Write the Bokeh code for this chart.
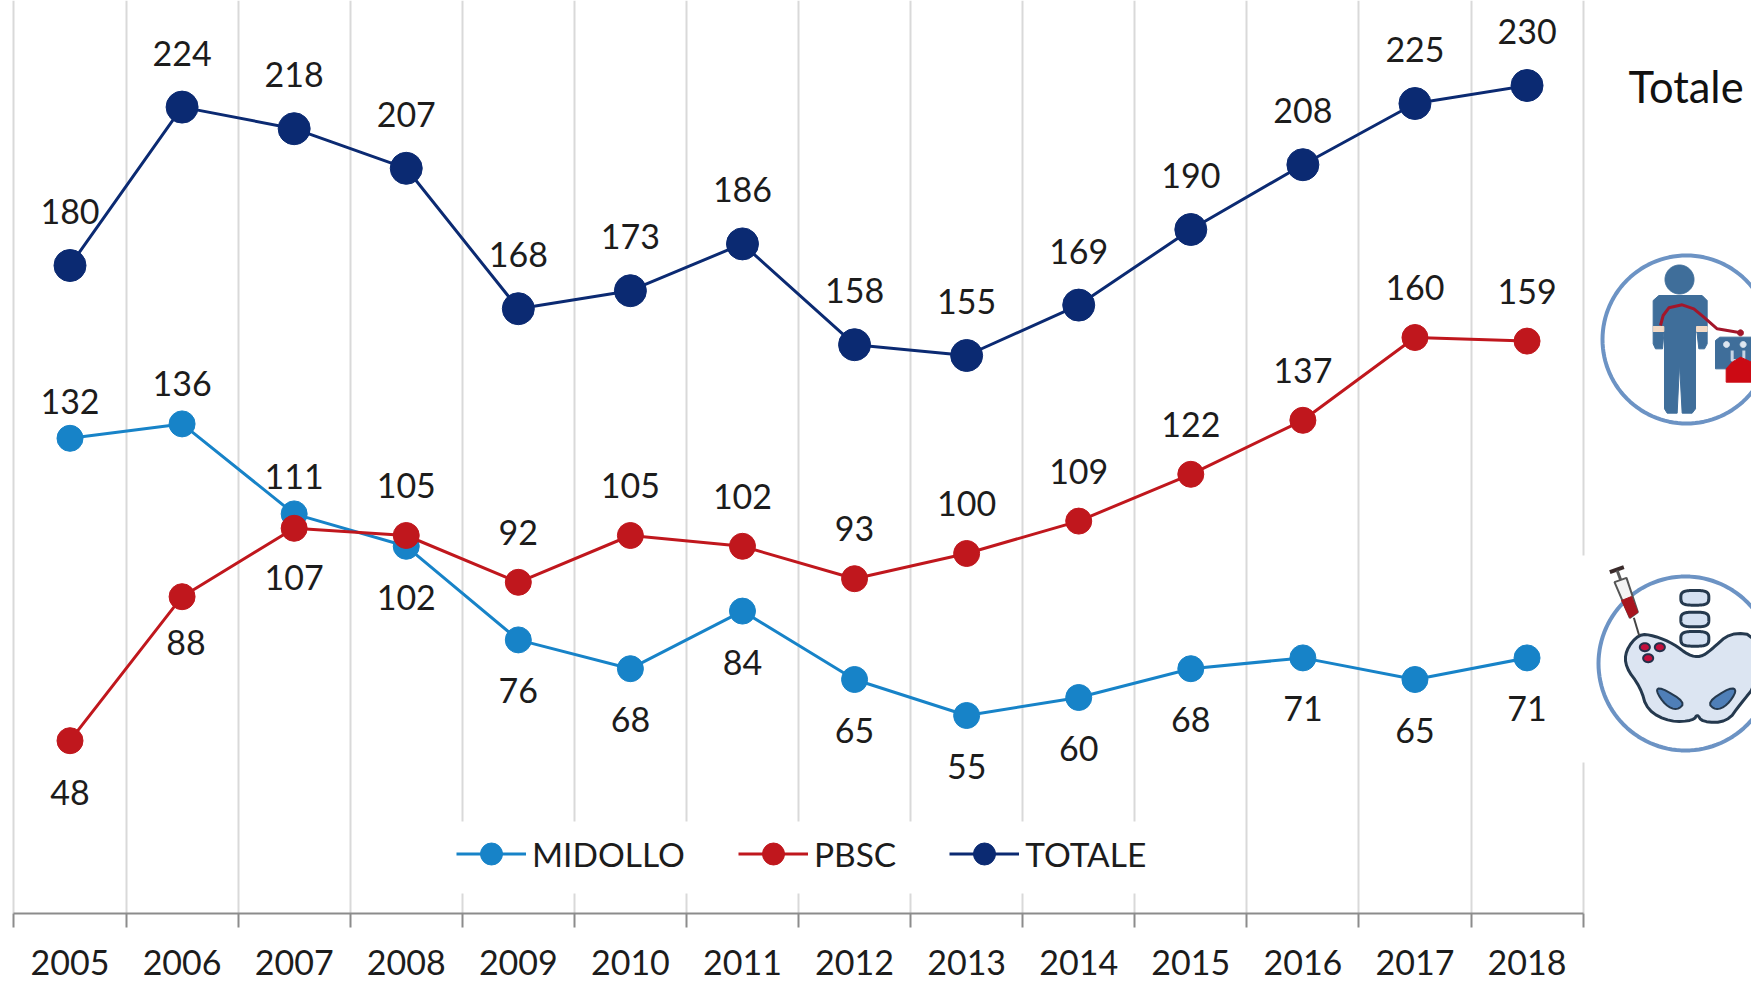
from bokeh.embed import file_html
from bokeh.resources import INLINE
from bokeh.plotting import figure
from bokeh.models import FixedTicker, Legend, LegendItem, Range1d, ColumnDataSource
from bokeh.core.properties import value
import numpy as np

YEARS = list(range(2005, 2019))
MIDOLLO = [132, 136, 111, 102, 76, 68, 84, 65, 55, 60, 68, 71, 65, 71]
PBSC = [48, 88, 107, 105, 92, 105, 102, 93, 100, 109, 122, 137, 160, 159]
TOTALE = [180, 224, 218, 207, 168, 173, 186, 158, 155, 169, 190, 208, 225, 230]
MID_ABOVE = [True, True, True] + [False] * 11
PBSC_ABOVE = [False, False, False] + [True] * 11
TOT_ABOVE = [True] * 14

C_MID, C_PBSC, C_TOT = "#1783C8", "#C0171D", "#0B2A72"
FONT = "Lato"
TXT = "#1c1c1c"

# layout in page pixels (Bokeh's page template has no body margin)
PX_2005, PX_YEAR = 69.5, 112.08
PX_Y0, PX_UNIT = 913.0, 3.6
F_L, F_R, F_T, F_B = 0, 1751, 0, 913

def X(px): return 2005 + (np.asarray(px, float) - PX_2005) / PX_YEAR
def Y(py): return (PX_Y0 - np.asarray(py, float)) / PX_UNIT

p = figure(width=1751, height=982, output_backend="svg", toolbar_location=None,
           x_range=Range1d(float(X(F_L)), float(X(F_R))), y_range=Range1d(0, float(Y(F_T))),
           min_border_left=0, min_border_right=0, min_border_top=0, min_border_bottom=982 - F_B)
p.outline_line_color = None
p.background_fill_color = "white"
p.yaxis.visible = False
p.ygrid.visible = False

HALVES = [y - 0.5 for y in YEARS] + [YEARS[-1] + 0.5]
ax = p.xaxis[0]
ax.ticker = FixedTicker(ticks=YEARS, minor_ticks=HALVES)
ax.bounds = (HALVES[0], HALVES[-1])
ax.axis_line_color = "#8C8C8C"
ax.axis_line_width = 2
ax.major_tick_line_color = None
ax.major_tick_out = 0
ax.major_tick_in = 0
ax.minor_tick_line_color = "#8C8C8C"
ax.minor_tick_line_width = 2
ax.minor_tick_out = 14
ax.minor_tick_in = 0
ax.major_label_text_font = FONT
ax.major_label_text_font_size = "34px"
ax.major_label_text_color = TXT
ax.major_label_standoff = 22

g = p.xgrid[0]
g.ticker = FixedTicker(ticks=HALVES)
g.bounds = (0, 250)
g.grid_line_color = "#D9D9D9"
g.grid_line_width = 2

# white plate the legend sits on: it interrupts the grid lines
p.quad(left=X([458]), right=X([1150]), bottom=Y([893]), top=Y([821]), fill_color="white", line_color=None)

# small label nudges (series, index) -> (dx, dy) in pixels
NUDGE = {("PBSC", 0): (0, 3), ("PBSC", 1): (4, -3), ("MIDOLLO", 1): (0, -3)}

legend_items = []
for name, vals, col, msize, above, up, down in [
    ("MIDOLLO", MIDOLLO, C_MID, 26, MID_ABOVE, -37, 51),
    ("PBSC", PBSC, C_PBSC, 26, PBSC_ABOVE, -50, 49),
    ("TOTALE", TOTALE, C_TOT, 32, TOT_ABOVE, -54, 53),
]:
    off = [(up if a else down) + NUDGE.get((name, i), (0, 0))[1] for i, a in enumerate(above)]
    xoff = [NUDGE.get((name, i), (0, 0))[0] for i in range(len(vals))]
    src = ColumnDataSource(dict(x=YEARS, y=vals, t=[str(v) for v in vals], off=off, xoff=xoff))
    r1 = p.line("x", "y", source=src, line_color=col, line_width=3)
    r2 = p.scatter("x", "y", source=src, size=msize, fill_color=col, line_color=col)
    p.text("x", "y", text="t", source=src, x_offset="xoff", y_offset="off", text_font=value(FONT),
           text_font_size="34px", text_color=TXT, text_align="center", text_baseline="middle")
    legend_items.append(LegendItem(label=name, renderers=[r1, r2]))

leg = Legend(items=legend_items, orientation="horizontal", location=(456, 32), margin=0,
             padding=10, spacing=53, glyph_width=70, glyph_height=55, label_standoff=6,
             label_text_font=FONT, label_text_font_size="33.5px", label_text_color=TXT,
             border_line_color=None, background_fill_color="white", background_fill_alpha=1)
p.add_layout(leg, "center")

# side panel
p.text(X([1628]), Y([85]), text=["Totale"], text_font=value(FONT), text_font_size="43.5px",
       text_color="#111111", text_align="left", text_baseline="middle")

RING = "#6C93C4"; BLUE = "#3F6E9A"; RED = "#CC0A14"; DARK = "#25394E"; PALE = "#DCE5F2"

def zx1(v): return X(1560 + np.asarray(v, float) / 3)
def zy1(v): return Y(np.asarray(v, float) / 3)
def zy2(v): return Y(540 + np.asarray(v, float) / 3)

def patch(xs, ys, fill, line=None, lw=1):
    p.patch(xs, ys, fill_color=fill, line_color=line if line else fill, line_width=lw)

def rounded(xs, ys, n=3):
    """Corner-cut a hand-traced outline so the icon reads as curved."""
    xs, ys = np.asarray(xs, float), np.asarray(ys, float)
    for _ in range(n):
        nx, ny = np.roll(xs, -1), np.roll(ys, -1)
        xs, ys = (np.column_stack([.75 * xs + .25 * nx, .25 * xs + .75 * nx]).ravel(),
                  np.column_stack([.75 * ys + .25 * ny, .25 * ys + .75 * ny]).ravel())
    return xs, ys

# donor icon
t = np.linspace(0, 2 * np.pi, 121)
patch(X(1686 + 84 * np.cos(t)), Y(339 + 84 * np.sin(t)), "white", RING, 4)
patch(X(1679 + 14.5 * np.cos(t)), Y(279 + 14.5 * np.sin(t)), BLUE)
patch(zx1([295, 425, 440, 440, 432, 415, 410, 405, 405, 395, 365, 357, 350, 320, 312, 312, 306, 285, 278, 278]),
      zy1([885, 885, 900, 1030, 1045, 1045, 1000, 980, 1225, 1238, 1238, 1090, 1238, 1238, 1225, 980, 1045, 1045, 1030, 900]), BLUE)
patch(zx1([278, 310, 310, 278]), zy1([978, 978, 993, 993]), "#F2D9C4")
patch(zx1([408, 440, 440, 408]), zy1([978, 978, 993, 993]), "#F2D9C4")
patch(zx1([478, 573, 573, 465, 465]), zy1([1010, 1010, 1105, 1105, 1020]), BLUE)
for cx in [498, 548]:
    patch(zx1(cx + 9 * np.cos(t)), zy1(1032 + 9 * np.sin(t)), "#DDE6F0")
p.line(zx1([515, 515, 530]), zy1([1050, 1080, 1080]), line_color="#C6D4E4", line_width=3)
p.line(zx1([550, 550, 535]), zy1([1050, 1080, 1080]), line_color="#C6D4E4", line_width=3)
patch(zx1([515, 540, 573, 573, 497, 497]), zy1([1085, 1070, 1085, 1145, 1145, 1105]), RED)
p.line(zx1([300, 308, 325, 365, 400, 430, 470, 540]), zy1([975, 945, 922, 913, 925, 950, 985, 997]),
       line_color="#A3162A", line_width=3)
patch(zx1(540 + 9 * np.cos(t)), zy1(997 + 9 * np.sin(t)), "#A3162A")

# marrow icon
p.quad(left=X([1575]), right=X([1751]), bottom=Y([762]), top=Y([555]), fill_color="white", line_color=None)
patch(X(1685 + 87 * np.cos(t)), Y(663 + 87 * np.sin(t)), "white", RING, 4)
px_, py_ = rounded([235, 195, 195, 240, 260, 330, 400, 410, 425, 500, 540, 590, 590, 510, 450, 420, 385, 340, 280],
                   [280, 330, 380, 440, 510, 545, 540, 520, 545, 545, 490, 430, 285, 275, 330, 350, 345, 310, 285], 2)
patch(zx1(px_), zy2(py_), PALE, DARK, 3)
for cy in [172, 237, 295]:
    xs = 403 + 42 * np.sign(np.cos(t)) * np.abs(np.cos(t)) ** 0.6
    ys = cy + 22 * np.sign(np.sin(t)) * np.abs(np.sin(t)) ** 0.6
    patch(zx1(xs), zy2(ys), "#D5E1F2", DARK, 3)
hx, hy = rounded([285, 300, 375, 350, 315], [450, 440, 485, 510, 495], 2)
patch(zx1(hx), zy2(hy), "#4F7FB8", DARK, 2)
hx, hy = rounded([530, 510, 440, 465, 500], [450, 440, 485, 510, 495], 2)
patch(zx1(hx), zy2(hy), "#4F7FB8", DARK, 2)
for cx, cy in [(253, 320), (298, 320), (263, 353)]:
    patch(zx1(cx + 15 * np.cos(t)), zy2(cy + 12 * np.sin(t)), "#C40F3C", "#24304A", 2)
# syringe
p.line(zx1([148, 190]), zy2([95, 80]), line_color="#3A2A2A", line_width=4)
p.line(zx1([170, 185]), zy2([90, 130]), line_color="#5A5A5A", line_width=3)
patch(zx1([162, 198, 232, 208]), zy2([125, 112, 215, 232]), "#F4F4F4", "#555555", 2)
patch(zx1([183, 213, 232, 208]), zy2([180, 168, 215, 232]), "#A8141E")
p.line(zx1([220, 236]), zy2([232, 285]), line_color="#444444", line_width=2)

open("out.html", "w").write(file_html(p, INLINE))
